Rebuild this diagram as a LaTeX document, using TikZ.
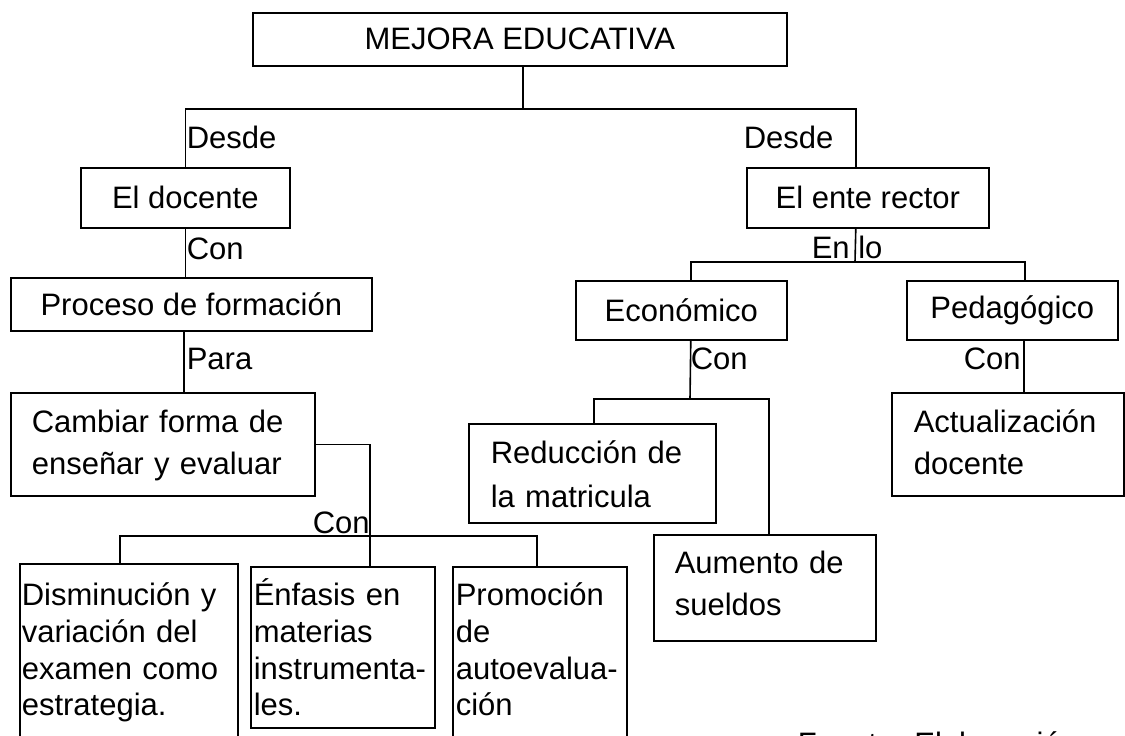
\documentclass[tikz,border=0pt]{standalone}
\usepackage{fontspec}
\setmainfont{Liberation Sans}
\usetikzlibrary{positioning}

\begin{document}
\begin{tikzpicture}[x=1pt, y=-1pt, line width=1.6pt,
  box/.style={draw, anchor=north west, inner sep=0pt,
     font=\fontsize{31}{42}\selectfont},
  multi/.style={box, align=left, inner xsep=#1},
  low/.style={font=\fontsize{31}{36.7}\selectfont},
  lbl/.style={anchor=base west, inner sep=0pt,
     font=\fontsize{31}{42}\selectfont}]
  \useasboundingbox (0,0) rectangle (1125,736);

  % boxes
  \node[box, minimum width=534pt, minimum height=53pt] (mejora) at (252,12) {MEJORA EDUCATIVA};
  \node[box, minimum width=209pt, minimum height=60pt] (docente) at (80,167) {El docente};
  \node[box, minimum width=242pt, minimum height=60pt] (rector) at (746,167) {El ente rector};
  \node[box, minimum width=361pt, minimum height=53pt] (proceso) at (10,277) {Proceso de formación};
  \node[multi=21pt, text width=262pt, text height=40pt, text depth=63pt] (cambiar) at (10,392)
        {Cambiar forma de\\enseñar y evaluar};
  \node[box, minimum width=211pt, minimum height=59pt] (economico) at (575,280) {Económico};
  \node[box, minimum width=211pt, minimum height=59pt] (pedagogico) at (906,280) {Pedagógico};
  \node[multi=22pt, text width=188pt, text height=40pt, text depth=63pt] (actual) at (891,392)
        {Actualización\\docente};
  \node[multi=22pt, text width=203pt, text height=40pt, text depth=59pt,
        font=\fontsize{31}{44}\selectfont] (reduccion) at (468,423) {Reducción de\\la matricula};
  \node[multi=21pt, text width=180pt, text height=39pt, text depth=67pt] (aumento) at (653,534)
        {Aumento de\\sueldos};
  \node[multi=2pt, low, text width=214pt, text height=42pt, text depth=140pt] (disminucion) at (19,563)
        {Disminución y\\variación del\\examen como\\estrategia.};
  \node[multi=3pt, low, text width=178pt, text height=39pt, text depth=122pt] (enfasis) at (250,566)
        {Énfasis en\\materias\\instrumenta-\\les.};
  \node[multi=3pt, low, text width=168pt, text height=39pt, text depth=140pt] (promocion) at (452,566)
        {Promoción\\de\\autoevalua-\\ción};

  % labels
  \node[lbl] (desde1) at (186,148) {Desde};
  \node[lbl] (desde2) at (743,148) {Desde};
  \node[lbl] (con1) at (186,259) {Con};
  \node[lbl] (para) at (186,369) {Para};
  \node[lbl] (enlo) at (811,258) {En lo};
  \node[lbl] (con2) at (690,369) {Con};
  \node[lbl] (con3) at (963,369) {Con};
  \node[lbl] (con4) at (312,533) {Con};
  \node[lbl] (fuente) at (797,754) {Fuente: Elaboración};

  % connectors
  \coordinate (jm) at (523,109);
  \coordinate (jr) at (855,262);
  \coordinate (je) at (690,399);
  \coordinate (jc) at (370,536);
  \coordinate (lx) at (184,0);
  \coordinate (px) at (1024,0);
  \draw (mejora.south -| jm) -- (jm);
  \draw (docente.north) |- (jm) -| ([xshift=-12pt]rector.north);
  \draw (docente.south) -- (docente.south |- proceso.north);
  \draw (proceso.south -| lx) -- (cambiar.north -| lx);
  \draw ([xshift=-12pt]rector.south) -- (jr);
  \draw ([xshift=9.5pt]economico.north) |- (jr) -| ([xshift=12.5pt]pedagogico.north);
  \draw ([xshift=9.5pt]economico.south) -- (je);
  \draw ([xshift=1.5pt]reduccion.north) |- (je) -| ([xshift=4pt]aumento.north);
  \draw (pedagogico.south -| px) -- (actual.north -| px);
  \draw (cambiar.east) -| (enfasis.north -| jc);
  \draw ([xshift=-9pt]disminucion.north) |- (jc) -| ([xshift=-3pt]promocion.north);
\end{tikzpicture}
\end{document}
